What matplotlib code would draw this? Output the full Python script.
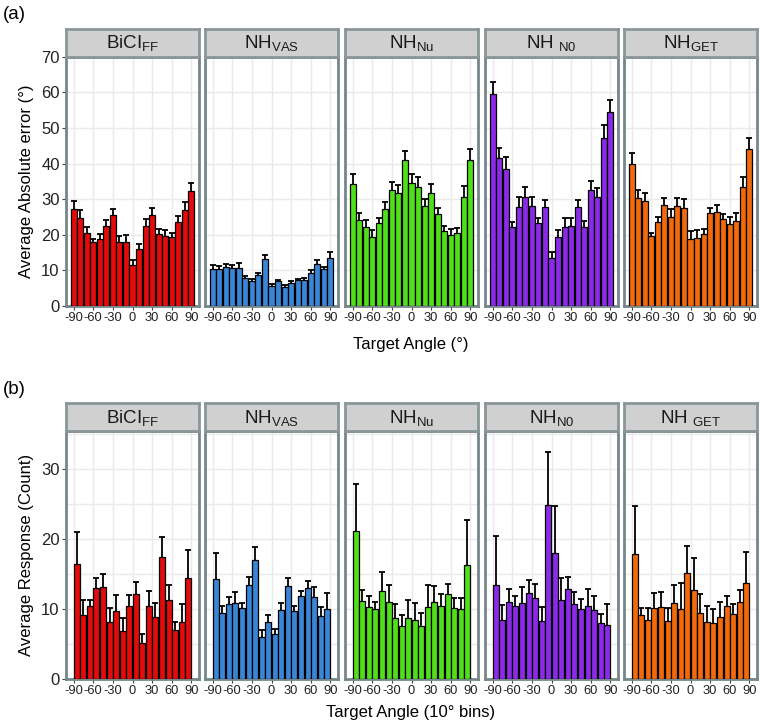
import matplotlib
matplotlib.use("Agg")
import matplotlib.pyplot as plt
import numpy as np

plt.rcParams['font.family'] = ['Liberation Sans', 'DejaVu Sans']
plt.rcParams['mathtext.fontset'] = 'custom'
plt.rcParams['mathtext.rm'] = 'Liberation Sans'
plt.rcParams['mathtext.it'] = 'Liberation Sans'

# ---------------- data ----------------
conditions = ["BiCI_FF", "NH_VAS", "NH_Nu", "NH_N0", "NH_GET"]
strip_labels_a = [r"$\mathregular{BiCI_{FF}}$", r"$\mathregular{NH_{VAS}}$", r"$\mathregular{NH_{Nu}}$",
                  r"$\mathregular{NH\ _{N0}}$", r"$\mathregular{NH_{GET}}$"]
strip_labels_b = [r"$\mathregular{BiCI_{FF}}$", r"$\mathregular{NH_{VAS}}$", r"$\mathregular{NH_{Nu}}$",
                  r"$\mathregular{NH_{N0}}$", r"$\mathregular{NH\ _{GET}}$"]
colors = ["#E30B0B", "#3A86D6", "#4FE01B", "#8B2BE8", "#F26A0C"]

angles_a = [-90, -80, -70, -60, -50, -40, -30, -20, -10, 0, 10, 20, 30, 40, 50, 60, 70, 80, 90]
angles_b = [-85, -75, -65, -55, -45, -35, -25, -15, -5, 5, 15, 25, 35, 45, 55, 65, 75, 85]
xticks = [-90, -60, -30, 0, 30, 60, 90]

err_mean = {
    "BiCI_FF": [27.1, 24.6, 20.6, 17.9, 18.8, 22.6, 25.5, 18.1, 18.1, 11.5, 16.0, 22.6, 25.5, 20.2, 19.7, 19.3, 23.5, 26.9, 32.4],
    "NH_VAS": [10.3, 10.5, 11.0, 10.6, 10.7, 7.9, 6.9, 8.8, 13.3, 5.6, 6.9, 5.4, 6.5, 7.2, 7.3, 9.4, 11.8, 10.3, 13.6],
    "NH_Nu": [34.2, 24.1, 22.3, 19.5, 23.2, 27.1, 32.6, 31.8, 41.0, 34.4, 33.3, 28.2, 31.8, 25.7, 21.1, 19.9, 20.4, 30.5, 41.0],
    "NH_N0": [59.5, 41.6, 38.6, 22.3, 27.9, 30.7, 28.2, 23.2, 27.7, 13.6, 19.3, 22.3, 22.6, 27.7, 22.3, 32.6, 30.5, 47.3, 54.6],
    "NH_GET": [40.0, 30.3, 29.6, 19.6, 23.5, 28.3, 25.1, 28.0, 27.6, 18.8, 19.2, 20.1, 26.0, 26.5, 24.3, 23.0, 24.0, 33.3, 44.0],
}
err_se = {
    "BiCI_FF": [2.4, 2.3, 1.7, 1.0, 1.3, 1.5, 1.7, 1.5, 1.7, 1.4, 1.4, 1.8, 2.1, 1.3, 1.7, 1.3, 1.8, 2.4, 2.2],
    "NH_VAS": [1.1, 0.6, 0.7, 1.0, 1.3, 0.6, 0.6, 0.6, 0.9, 0.6, 0.3, 0.5, 0.4, 0.5, 0.6, 0.7, 1.1, 0.6, 1.6],
    "NH_Nu": [2.8, 2.1, 1.9, 1.7, 1.6, 2.2, 2.2, 2.2, 2.5, 2.6, 2.8, 1.8, 2.4, 1.8, 1.5, 1.7, 1.6, 3.2, 3.1],
    "NH_N0": [3.5, 2.9, 3.3, 1.4, 2.6, 2.8, 2.3, 1.4, 2.2, 1.7, 2.1, 2.4, 2.1, 2.2, 1.5, 2.6, 2.7, 3.4, 3.2],
    "NH_GET": [3.0, 2.2, 2.2, 0.9, 1.4, 2.0, 2.0, 2.3, 2.5, 2.3, 2.2, 1.4, 1.6, 1.8, 1.6, 1.9, 2.1, 2.8, 3.1],
}
resp_mean = {
    "BiCI_FF": [16.5, 9.2, 10.4, 13.0, 13.2, 8.1, 9.8, 6.8, 10.4, 12.1, 5.2, 10.5, 8.9, 17.4, 11.3, 7.0, 8.1, 14.5],
    "NH_VAS": [14.3, 9.5, 10.8, 10.9, 10.2, 13.4, 17.1, 6.0, 8.2, 6.5, 9.9, 13.3, 9.7, 11.9, 13.0, 11.8, 9.0, 10.0],
    "NH_Nu": [21.2, 11.1, 10.3, 10.0, 12.6, 11.0, 8.8, 7.6, 8.8, 8.5, 7.6, 10.3, 11.0, 10.5, 12.1, 10.2, 10.0, 16.3],
    "NH_N0": [13.5, 8.5, 11.0, 10.5, 10.9, 12.3, 11.6, 8.3, 24.9, 18.0, 11.3, 12.9, 10.8, 10.0, 10.5, 9.9, 8.0, 7.7],
    "NH_GET": [17.9, 9.1, 8.5, 10.2, 10.3, 8.3, 10.9, 10.0, 15.2, 12.8, 9.5, 8.2, 8.0, 8.9, 10.5, 9.3, 11.0, 13.7],
}
resp_se = {
    "BiCI_FF": [4.5, 2.1, 0.9, 1.4, 1.9, 2.0, 2.2, 2.0, 1.6, 1.8, 1.3, 2.1, 2.0, 2.9, 2.2, 1.1, 2.7, 3.9],
    "NH_VAS": [3.7, 1.0, 1.0, 1.6, 0.7, 1.2, 1.8, 1.0, 1.0, 0.7, 1.0, 1.1, 0.8, 0.7, 1.0, 1.4, 1.3, 2.3],
    "NH_Nu": [6.7, 1.7, 1.6, 1.0, 2.7, 2.5, 2.0, 1.6, 2.5, 2.4, 1.8, 3.1, 2.3, 1.7, 1.5, 1.4, 1.6, 6.5],
    "NH_N0": [6.9, 2.1, 1.9, 1.4, 2.2, 1.9, 2.0, 2.0, 7.6, 6.8, 3.2, 1.7, 1.6, 1.5, 2.4, 2.0, 1.3, 3.1],
    "NH_GET": [6.9, 1.1, 1.6, 2.1, 2.2, 1.8, 2.6, 3.7, 3.8, 4.5, 2.7, 2.3, 2.0, 2.1, 1.4, 1.4, 1.8, 4.5],
}

# ---------------- layout ----------------
W, H = 760, 724
fig = plt.figure(figsize=(W / 100, H / 100), dpi=100)

panel_left = [66, 205, 345, 485, 624]
panel_w = 133
border = "#76868A"
grid_c = "#EAEAEA"
strip_h = 28


def fx(x):
    return x / W


def fy(y):
    return 1 - y / H


def draw_row(top, bottom, xs, means, ses, ylim, yticks, minor, strips, ylabel, xlabel, tag, xlab_off):
    for i, cond in enumerate(conditions):
        ax = fig.add_axes([fx(panel_left[i]), fy(bottom), fx(panel_w), (bottom - top) / H])
        ax.set_xlim(-101.5, 101.5)
        ax.set_ylim(*ylim)
        for g in xticks:
            ax.axvline(g, color=grid_c, lw=1.0, zorder=0)
        for g in list(yticks) + list(minor):
            ax.axhline(g, color=grid_c, lw=1.0, zorder=0)
        m = np.array(means[cond])
        s = np.array(ses[cond])
        ax.errorbar(xs, m, yerr=s, fmt="none", ecolor="black", elinewidth=1.3,
                    capsize=2.2, capthick=1.3, zorder=2)
        ax.bar(xs, m, width=9.2, color=colors[i], edgecolor="black", linewidth=0.9, zorder=3)
        ax.set_xticks(xticks)
        ax.set_xticklabels([str(t) for t in xticks], fontsize=9.3, color="#222222")
        ax.tick_params(axis="x", length=3, width=0.8, color="#444444", pad=1.5)
        ax.set_yticks(yticks)
        if i == 0:
            ax.set_yticklabels([str(t) for t in yticks], fontsize=12, color="#222222")
            ax.tick_params(axis="y", length=3, width=0.8, color="#444444", pad=1.5)
            ax.set_ylabel(ylabel, fontsize=12, labelpad=5)
        else:
            ax.tick_params(axis="y", length=0, labelleft=False)
        for sp in ax.spines.values():
            sp.set_color(border)
            sp.set_linewidth(2.0)
        ax.set_facecolor("white")
        # strip
        sax = fig.add_axes([fx(panel_left[i]), fy(top), fx(panel_w), strip_h / H])
        sax.set_facecolor("#D0D0D0")
        sax.set_xticks([])
        sax.set_yticks([])
        for sp in sax.spines.values():
            sp.set_color("#8A9697")
            sp.set_linewidth(2.0)
        sax.text(0.5, 0.48, strips[i], ha="center", va="center", fontsize=13.5,
                 color="#1A1A1A", transform=sax.transAxes)
    fig.text(fx(411), fy(bottom + xlab_off), xlabel, ha="center", va="center", fontsize=12)
    fig.text(fx(3), fy(top - 42), tag, ha="left", va="center", fontsize=13.5)


draw_row(56.7, 306, angles_a, err_mean, err_se, (0, 70), range(0, 71, 10), [],
         strip_labels_a, "Average Absolute error (°)", "Target Angle (°)", "(a)", 38)
draw_row(431, 679, angles_b, resp_mean, resp_se, (0, 35.5), [0, 10, 20, 30], [5, 15, 25, 35],
         strip_labels_b, "Average Response (Count)", "Target Angle (10° bins)", "(b)", 34)

fig.savefig("out.png", dpi=100)
